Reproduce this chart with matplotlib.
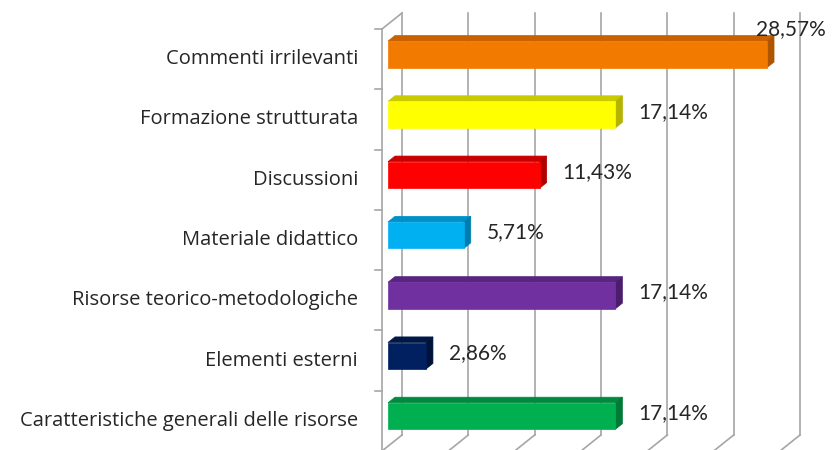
import matplotlib
matplotlib.use("Agg")
import matplotlib.pyplot as plt
from matplotlib.patches import Polygon
from matplotlib.lines import Line2D
from matplotlib.transforms import IdentityTransform
import numpy as np

categories = [
    "Caratteristiche generali delle risorse",
    "Elementi esterni",
    "Risorse teorico-metodologiche",
    "Materiale didattico",
    "Discussioni",
    "Formazione strutturata",
    "Commenti irrilevanti",
]
values = [17.14, 2.86, 17.14, 5.71, 11.43, 17.14, 28.57]
value_labels = ["17,14%", "2,86%", "17,14%", "5,71%", "11,43%", "17,14%", "28,57%"]
front_colors = ["#00B050", "#002060", "#7030A0", "#00B0F0", "#FF0000", "#FFFF00", "#F27A00"]
top_colors = ["#008A3E", "#001848", "#582580", "#0090C8", "#C80000", "#CACA00", "#C86200"]
side_colors = ["#007A36", "#00123A", "#4A1E6C", "#007CAE", "#B00000", "#B4B400", "#AE5500"]
xticks = [0, 5, 10, 15, 20, 25, 30]

W, H = 832, 450
fig = plt.figure(figsize=(W / 100, H / 100), dpi=100)
ax = fig.add_axes([382 / W, (H - 451) / H, 398 / W, 422 / H])
ax.set_xlim(0, 30)
ax.set_ylim(-0.5, len(categories) - 0.5)
ax.axis("off")

grid_c = "#A6A6A6"
text_c = "#262626"

# depth vector of the 3-D box, in pixels
DX, DY = 20.0, 16.0
d0, d1 = 0.3, 0.65         # bar front / back along depth
bar_h = 0.44

def px(x, y):
    return ax.transData.transform((x, y))

def line(p, q, **kw):
    fig.add_artist(Line2D([p[0], q[0]], [p[1], q[1]], transform=IdentityTransform(),
                          color=grid_c, lw=1.2, **kw))

ymin, ymax = -0.5, len(categories) - 0.5
# back wall gridlines and floor lines
for t in xticks:
    b0 = px(t, ymin) + (DX, DY)
    b1 = px(t, ymax) + (DX, DY)
    line(b0, b1, zorder=1)
    line(px(t, ymin), b0, zorder=1)
# left wall edges
line(px(0, ymin), px(0, ymax), zorder=1)
line(px(0, ymax), px(0, ymax) + (DX, DY), zorder=1)
# category tick marks
for k in range(len(categories) + 1):
    p = px(0, ymin + k)
    line(p - (7, 0), p, zorder=1)

o0 = np.array([DX * d0, DY * d0])
od = np.array([DX * (d1 - d0), DY * (d1 - d0)])

for i, (v, lab, fc, tc, sc) in enumerate(zip(values, value_labels, front_colors, top_colors, side_colors)):
    bl = px(0, i - bar_h / 2) + o0
    br = px(v, i - bar_h / 2) + o0
    tl = px(0, i + bar_h / 2) + o0
    tr = px(v, i + bar_h / 2) + o0
    top = Polygon([tl, tr, tr + od, tl + od], closed=True, transform=IdentityTransform(),
                  facecolor=tc, edgecolor=tc, lw=0.5, zorder=3)
    side = Polygon([br, tr, tr + od, br + od], closed=True, transform=IdentityTransform(),
                   facecolor=sc, edgecolor=sc, lw=0.5, zorder=3)
    front = Polygon([bl, br, tr, tl], closed=True, transform=IdentityTransform(),
                    facecolor=fc, edgecolor=fc, lw=0.5, zorder=4)
    for p in (top, side, front):
        fig.add_artist(p)

    cy = (br[1] + tr[1]) / 2
    if v == max(values):
        fig.text((W - 6) / W, (tr[1] + od[1] + 6) / H, lab, ha="right", va="center",
                 fontsize=15, color=text_c, family=["Lato", "DejaVu Sans"])
    else:
        fig.text((br[0] + od[0] + 16) / W, (cy + 3) / H, lab, ha="left", va="center",
                 fontsize=15, color=text_c, family=["Lato", "DejaVu Sans"])

# category labels
for i, c in enumerate(categories):
    p = px(0, i)
    fig.text((p[0] - 24) / W, p[1] / H, c, ha="right", va="center", fontsize=14.5,
             color=text_c, family=["Open Sans", "DejaVu Sans"])

fig.savefig("out.png", dpi=100)
